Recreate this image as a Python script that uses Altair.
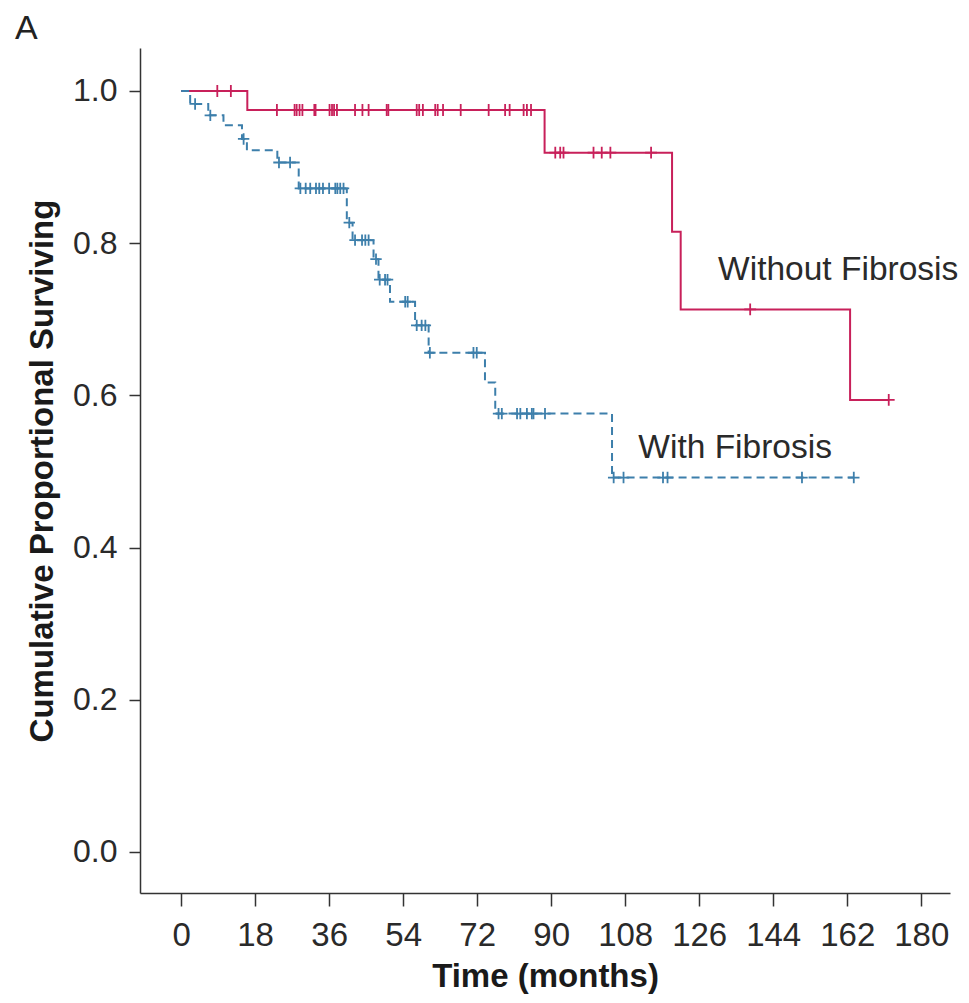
import altair as alt
import pandas as pd

# ---- data ----
RED_TIMES = [0, 16.1, 88.4, 119.4, 121.5, 162.7, 172.1]
RED_SURV = [1.0, 0.975, 0.919, 0.815, 0.713, 0.594, 0.594]
RED_CENSOR = [8.8, 12.1, 23.3, 27.6, 28.1, 28.8, 29.5, 32.4, 32.7, 36.1, 36.7, 37.2,
              37.9, 42.3, 44.1, 45.6, 50.0, 50.4, 57.3, 57.9, 58.8, 61.8, 62.4, 63.7,
              68.0, 74.8, 78.8, 79.9, 83.3, 84.1, 85.1, 91.0, 92.2, 93.0, 100.3, 102.3,
              104.4, 114.3, 138.4, 172.1]

BLUE_TIMES = [0, 2.2, 6.6, 10.3, 14.8, 16.0, 23.4, 28.6, 40.3, 41.7, 46.8, 48.0,
              50.8, 56.9, 60.2, 73.9, 76.4, 104.8, 163.6]
BLUE_SURV = [1.0, 0.983, 0.968, 0.955, 0.937, 0.922, 0.906, 0.872, 0.827, 0.804,
             0.779, 0.752, 0.723, 0.692, 0.656, 0.617, 0.576, 0.492, 0.492]
BLUE_CENSOR = [3.4, 7.1, 15.2, 23.8, 26.5, 29.0, 30.3, 31.4, 32.8, 33.6, 34.5, 36.0,
               37.5, 38.0, 38.7, 39.5, 40.9, 42.3, 44.0, 44.8, 45.6, 47.4, 48.3, 49.6,
               50.2, 54.5, 55.1, 57.3, 58.5, 59.4, 60.5, 71.1, 71.9, 77.2, 78.0, 81.7,
               82.5, 84.1, 85.3, 85.7, 88.5, 105.2, 107.6, 117.2, 118.3, 151.0, 163.6]

LABELS = ["Without Fibrosis", "With Fibrosis"]
LABEL_T = [130.6, 111.2]
LABEL_S = [0.752, 0.518]

PANEL = ["A"]

X_TICKS = [0, 18, 36, 54, 72, 90, 108, 126, 144, 162, 180]
Y_TICKS = [0.0, 0.2, 0.4, 0.6, 0.8, 1.0]

RED = "#c8205a"
BLUE = "#3d7fab"
FONT = "Liberation Sans"


def surv_at(times, surv, t):
    s = surv[0]
    for ti, si in zip(times, surv):
        if ti <= t:
            s = si
    return s


red_line = pd.DataFrame({"t": RED_TIMES, "s": RED_SURV})
blue_line = pd.DataFrame({"t": BLUE_TIMES, "s": BLUE_SURV})
red_c = pd.DataFrame({"t": RED_CENSOR,
                      "s": [surv_at(RED_TIMES, RED_SURV, t) for t in RED_CENSOR]})
blue_c = pd.DataFrame({"t": BLUE_CENSOR,
                       "s": [surv_at(BLUE_TIMES, BLUE_SURV, t) for t in BLUE_CENSOR]})
labels = pd.DataFrame({"label": LABELS, "t": LABEL_T, "s": LABEL_S})
panel = pd.DataFrame({"label": PANEL})

xscale = alt.Scale(domain=[-10, 187], nice=False, zero=False)
yscale = alt.Scale(domain=[-0.054, 1.0565], nice=False, zero=False)

xax = alt.Axis(values=X_TICKS, title="Time (months)", grid=False,
               labelFontSize=33, labelPadding=13, tickSize=13,
               titleFontSize=33, titleFontWeight="bold", titlePadding=8)
yax = alt.Axis(values=Y_TICKS, format=".1f", title="Cumulative Proportional Surviving",
               grid=False, labelFontSize=32, labelPadding=12, tickSize=11,
               titleFontSize=33, titleFontWeight="bold", titlePadding=13)

X = alt.X("t:Q", scale=xscale, axis=xax)
Y = alt.Y("s:Q", scale=yscale, axis=yax)

cross = "M-1,0H1M0,-1V1"

l_red = alt.Chart(red_line).mark_line(interpolate="step-after", color=RED,
                                      strokeWidth=2).encode(x=X, y=Y)
l_blue = alt.Chart(blue_line).mark_line(interpolate="step-after", color=BLUE,
                                        strokeWidth=2, strokeDash=[8, 5]).encode(x=X, y=Y)
c_red = alt.Chart(red_c).mark_point(shape=cross, filled=False, color=RED, size=140,
                                    strokeWidth=1.8, opacity=1).encode(x=X, y=Y)
c_blue = alt.Chart(blue_c).mark_point(shape=cross, filled=False, color=BLUE, size=130,
                                      strokeWidth=1.8, opacity=1).encode(x=X, y=Y)
txt = alt.Chart(labels).mark_text(align="left", baseline="alphabetic", fontSize=33.5,
                                  font=FONT, color="#2a2a2a").encode(
    x=X, y=Y, text="label:N")
ptxt = alt.Chart(panel).mark_text(align="left", baseline="alphabetic", fontSize=34,
                                  font=FONT, color="#222").encode(
    x=alt.value(-125), y=alt.value(-9.5), text="label:N")

chart = alt.layer(l_red, l_blue, c_red, c_blue, txt, ptxt).properties(
    width=810, height=845,
    autosize=alt.AutoSizeParams(type="none"),
    padding={"left": 132, "top": 40, "right": 11, "bottom": 102},
    background="white",
).configure_view(stroke=None).configure_axis(
    labelFont=FONT, titleFont=FONT, labelColor="#2a2a2a", titleColor="#1a1a1a",
    domainColor="#333", domainWidth=1.5, tickColor="#333", tickWidth=1.5,
)

chart.save("out.html", embed_options={"renderer": "svg", "actions": False})
